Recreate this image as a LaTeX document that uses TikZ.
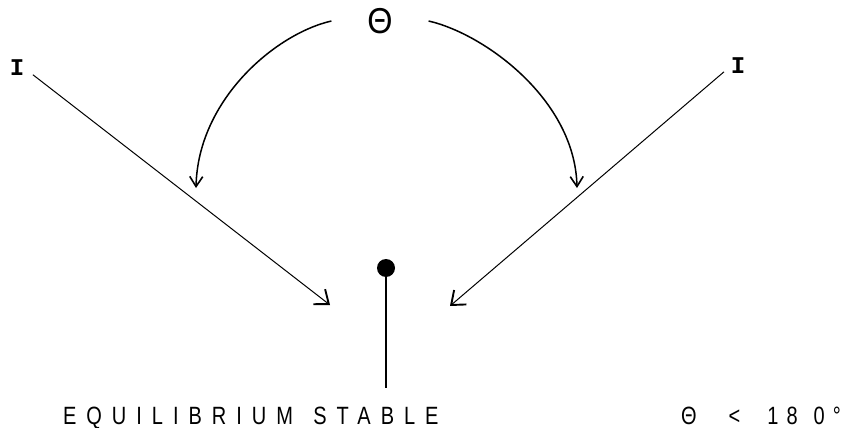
\documentclass[tikz,border=0pt]{standalone}
\usepackage{fontspec}
\setmainfont{Liberation Sans}
\newfontfamily\spacedfont[LetterSpace=50]{Liberation Sans}
\newfontfamily\typefont{Liberation Mono}
\usetikzlibrary{arrows.meta}
\tikzset{
  forceline/.style={draw=black,line width=1pt,-{Straight Barb[length=12pt,width=19pt,line width=1.9pt]}},
  angleline/.style={draw=black,line width=1.5pt,-{Straight Barb[length=10pt,width=13pt,line width=1.6pt]}},
  forcelabel/.style={inner sep=0pt,outer sep=0pt,font=\typefont\bfseries\fontsize{24}{28}\selectfont},
  caption/.style={inner sep=0pt,outer sep=0pt,anchor=base west,xscale=0.8,font=\fontsize{25}{30}\selectfont}
}
\begin{document}
\begin{tikzpicture}[x=1pt,y=-1pt]
\path[use as bounding box,fill=white] (0,0) rectangle (847,428);
\node[inner ysep=0pt,inner xsep=40pt,outer sep=0pt,font=\fontsize{36}{42}\selectfont,xscale=0.9] (theta) at (380,21) {Θ};
\node[forcelabel] (Ileft) at (17,68) {I};
\node[forcelabel] (Iright) at (738,66) {I};
\node[circle,fill=black,inner sep=0pt,minimum size=18pt] (pivot) at (386,268) {};
\coordinate (tipL) at (330,305);
\coordinate (tipR) at (450,306);
\coordinate (arcL) at (196,188);
\coordinate (arcR) at (577,188);
\coordinate (stemend) at (386,388);
\draw[forceline,shorten <=11pt] (Ileft.east) -- (tipL);
\draw[forceline,shorten <=9pt] (Iright.west) -- (tipR);
\draw[angleline] (theta.west) .. controls (275,34) and (198,100) .. (arcL);
\draw[angleline] (theta.east) .. controls (485,34) and (575,100) .. (arcR);
\draw[line width=2pt] (pivot) -- (stemend);
\node[caption] (verdict) at (63,424) {\spacedfont EQUILIBRIUM\hspace{6pt} STABLE};
\node[caption] (cond) at (681,424) {Θ\hspace{40pt}<\hspace{34pt}1\hspace{10pt}8\hspace{20pt}0\hspace{10pt}°};
\end{tikzpicture}
\end{document}
